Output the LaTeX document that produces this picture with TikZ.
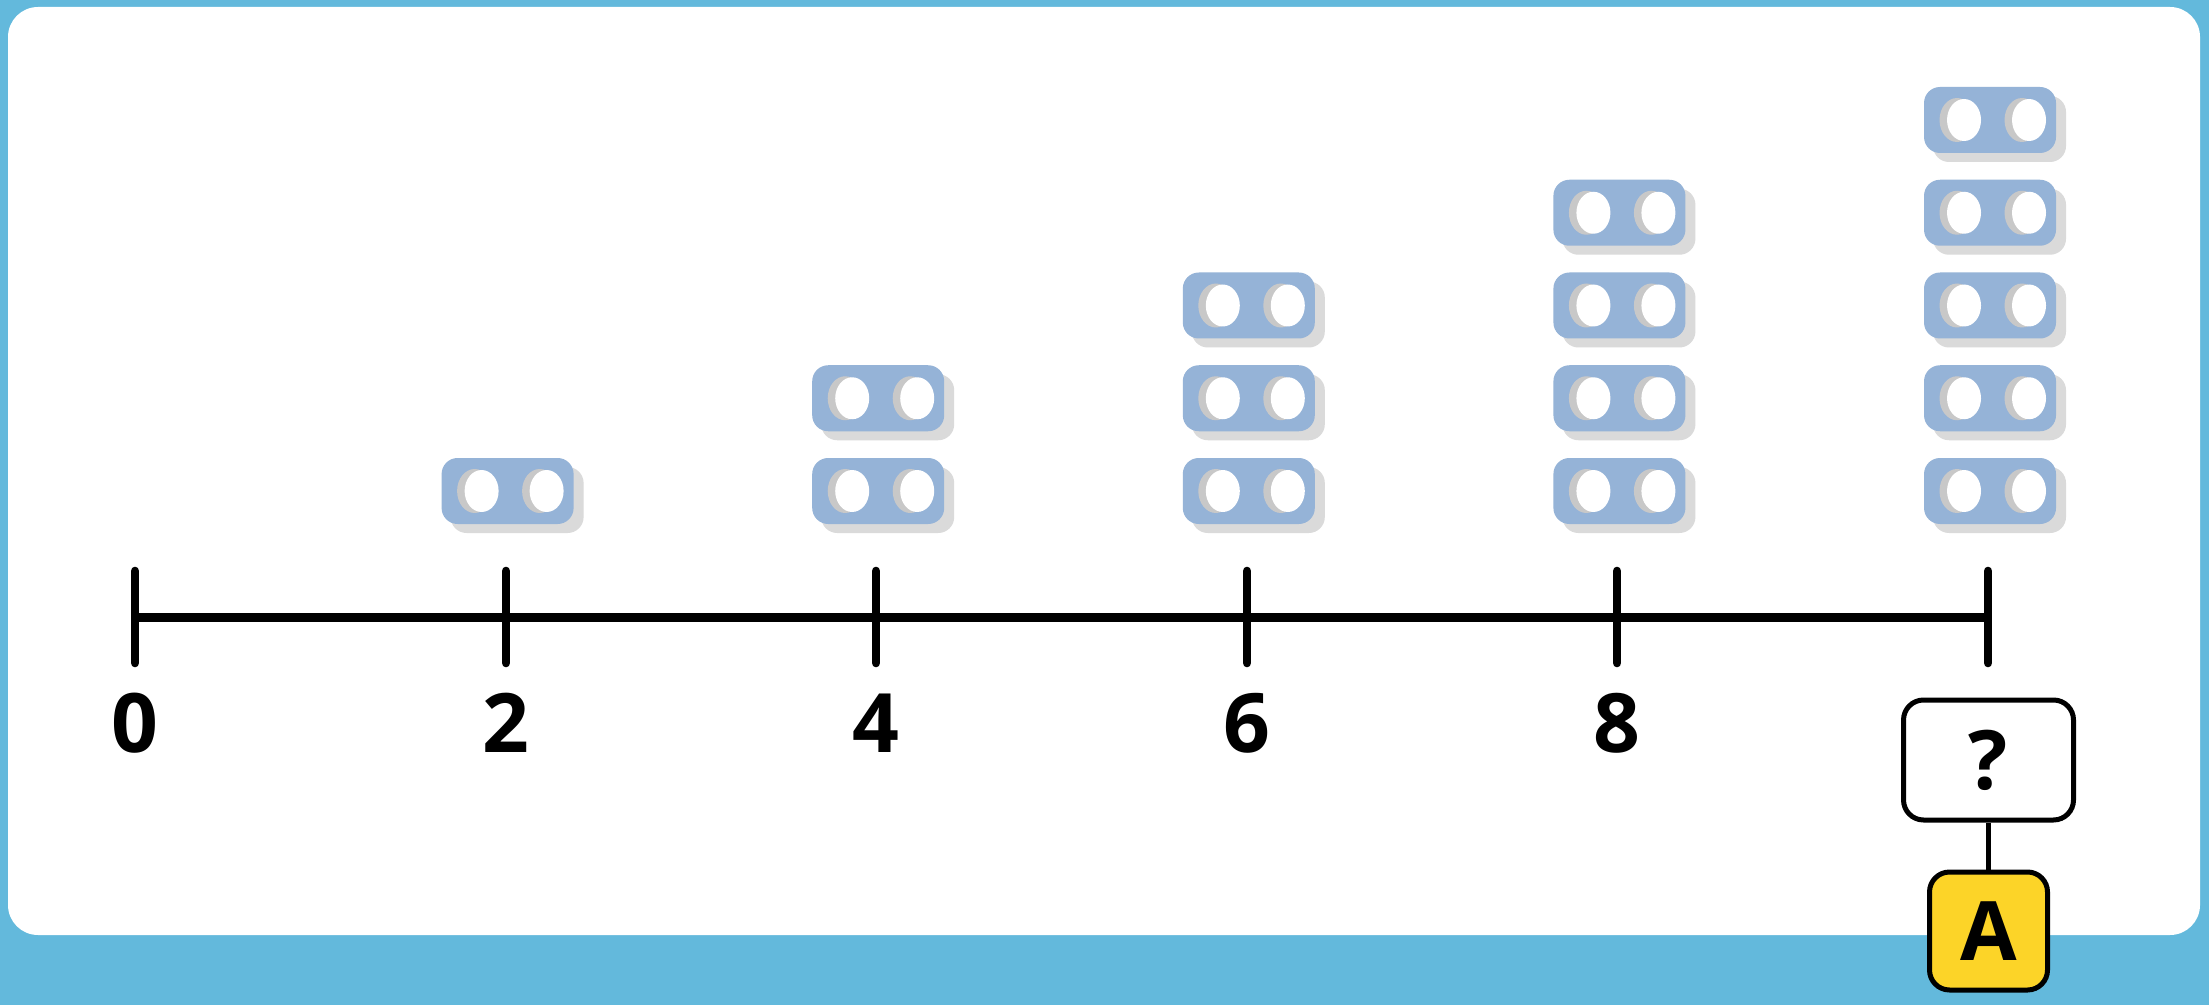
\documentclass[tikz,border=0pt]{standalone}
\usepackage{fontspec}
\setmainfont{Open Sans}
\definecolor{bgblue}{RGB}{99,185,220}
\definecolor{brickblue}{RGB}{149,179,215}
\definecolor{brickshadow}{RGB}{218,218,218}
\definecolor{holegray}{RGB}{200,200,200}
\definecolor{ansyellow}{RGB}{252,212,40}
\tikzset{
  brick/.pic={
    \fill[brickshadow, rounded corners=8pt] (-57,-24) rectangle (76,42);
    \fill[brickblue, rounded corners=8pt] (-66,-33) rectangle (66,33);
    \fill[holegray] (-33,0) ellipse [x radius=17.5, y radius=22];
    \fill[white] (-26,0) ellipse [x radius=17, y radius=21];
    \fill[holegray] (32,0) ellipse [x radius=17.5, y radius=22];
    \fill[white] (39,0) ellipse [x radius=17, y radius=21];
  },
  tickline/.style={line width=4.3pt, line cap=round},
  axisline/.style={line width=4.5pt},
  numlabel/.style={anchor=base, font=\fontsize{41}{48}\selectfont\bfseries, inner sep=0pt},
  qbox/.style={draw, line width=2.5pt, rounded corners=10pt, fill=white, minimum width=85pt, minimum height=60pt, font=\fontsize{41}{48}\selectfont\bfseries, inner sep=0pt},
  abox/.style={draw, line width=2.5pt, rounded corners=10pt, fill=ansyellow, minimum width=59pt, minimum height=59pt, font=\fontsize{41}{48}\selectfont\bfseries, inner sep=0pt},
  link/.style={line width=2.5pt}
}
\begin{document}
\begin{tikzpicture}[x=0.5pt, y=-0.5pt]
\useasboundingbox (0,0) rectangle (2209,1005);
\fill[bgblue] (0,0) rectangle (2209,1005);
\fill[white, rounded corners=15pt] (8,7) rectangle (2200,935);
% axis
\coordinate (t0) at (135,617);
\coordinate (t1) at (506,617);
\coordinate (t2) at (876,617);
\coordinate (t3) at (1247,617);
\coordinate (t4) at (1617,617);
\coordinate (t5) at (1988,617);
\draw[axisline] (t0) -- (t5);
\foreach \i in {0,...,5} {
  \draw[tickline] ([yshift=23pt]t\i) -- ([yshift=-23pt]t\i);
}
\node[numlabel] (n0) at (135,752) {0};
\node[numlabel] (n1) at (506,752) {2};
\node[numlabel] (n2) at (876,752) {4};
\node[numlabel] (n3) at (1247,752) {6};
\node[numlabel] (n4) at (1617,752) {8};
% bricks
\foreach \c/\n in {1/1,2/2,3/3,4/4,5/5} {
  \pgfmathsetmacro{\bx}{135+370.6*\c+2}
  \foreach \k in {1,...,\n} {
    \pgfmathsetmacro{\by}{491-92.75*(\k-1)}
    \pic at (\bx,\by) {brick};
  }
}
% answer boxes
\node[qbox] (q) at (1988.5,760) {?};
\node[abox] (a) at (1988.5,931) {A};
\draw[link] (q.south) -- (a.north);
\end{tikzpicture}
\end{document}
